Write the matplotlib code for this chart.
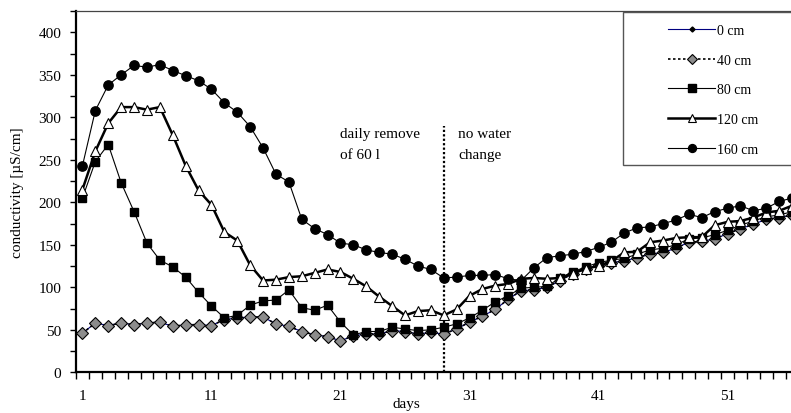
import numpy as np
import matplotlib
matplotlib.use("Agg")
import matplotlib.pyplot as plt
from matplotlib.patches import Rectangle
from matplotlib.ticker import FixedLocator, MultipleLocator

plt.rcParams['font.family'] = ['Liberation Serif', 'DejaVu Serif']
plt.rcParams['font.size'] = 11

days = np.arange(1, 57)

# conductivity at each sampling depth [µS/cm]
cond_0 = [46, 58, 55, 58, 56, 58, 59, 54, 56, 56, 55, 62, 64, 65, 65, 57, 54, 48, 44, 42,
          37, 43, 45, 45, 49, 48, 45, 47, 45, 51, 59, 66, 74, 86, 96, 97, 100, 108, 116, 122,
          126, 129, 131, 135, 139, 141, 146, 153, 154, 157, 163, 169, 174, 180, 182, 185]
cond_40 = [46, 58, 55, 58, 56, 58, 59, 54, 56, 56, 55, 62, 64, 65, 65, 57, 54, 48, 44, 42,
           37, 43, 45, 45, 49, 48, 45, 47, 45, 51, 59, 66, 74, 86, 96, 97, 100, 108, 116, 122,
           126, 129, 131, 135, 139, 141, 146, 153, 154, 157, 163, 169, 174, 180, 182, 185]
cond_80 = [205, 248, 268, 223, 189, 152, 132, 124, 112, 94, 78, 64, 67, 79, 84, 85, 97, 76, 73, 79,
           59, 44, 48, 48, 53, 51, 49, 50, 53, 57, 64, 73, 83, 90, 99, 100, 101, 111, 118, 124,
           129, 132, 134, 139, 144, 146, 150, 157, 158, 162, 167, 173, 178, 183, 185, 189]
cond_120 = [215, 260, 293, 312, 312, 309, 312, 279, 243, 214, 197, 165, 155, 126, 108, 109, 112, 113, 117, 121,
            118, 110, 101, 89, 78, 67, 72, 73, 67, 74, 90, 98, 102, 104, 110, 111, 110, 111, 116, 122,
            125, 131, 141, 142, 153, 155, 158, 159, 159, 173, 177, 178, 182, 188, 190, 196]
cond_160 = [243, 308, 338, 350, 361, 359, 362, 355, 349, 343, 333, 317, 306, 289, 264, 233, 224, 180, 169, 162,
            152, 150, 144, 141, 139, 133, 125, 121, 111, 112, 114, 114, 115, 110, 108, 123, 135, 137, 139, 142,
            147, 153, 164, 170, 171, 175, 179, 186, 182, 189, 193, 196, 190, 193, 201, 205]

switch_day = 29

W, H = 791, 414
fig = plt.figure(figsize=(W / 100, H / 100), dpi=100)
ax = fig.add_axes([76 / W, (H - 373.3) / H, 722.5 / W, 361.25 / H])

l0, = ax.plot(days, cond_0, color='#000080', lw=0.8, marker='D', ms=3,
              mfc='black', mec='black', label='0 cm', zorder=2)
l40, = ax.plot(days, cond_40, color='black', lw=1.2, ls=(0, (1.5, 1.5)), marker='D', ms=6.3,
               mfc='#8c8c8c', mec='black', mew=0.8, label='40 cm', zorder=3)
l80, = ax.plot(days, cond_80, color='black', lw=0.8, marker='s', ms=6,
               mfc='black', mec='black', label='80 cm', zorder=4)
l120, = ax.plot(days, cond_120, color='black', lw=1.8, marker='^', ms=7.5,
                mfc='white', mec='black', mew=0.8, label='120 cm', zorder=5)
l160, = ax.plot(days, cond_160, color='black', lw=0.8, marker='o', ms=6.7,
                mfc='black', mec='black', label='160 cm', zorder=6)

ax.vlines(switch_day, 0, 290, colors='black', lw=1.6, linestyles=(0, (1, 1)), zorder=1)

ax.text(21, 269, 'daily remove\nof 60 l', ha='left', va='center', linespacing=1.8)
ax.text(30.1, 269, 'no water\nchange', ha='left', va='center', linespacing=1.8)

ax.set_xlim(0.5, 56.5)
ax.set_ylim(0, 425)

ax.xaxis.set_major_locator(FixedLocator([1, 11, 21, 31, 41, 51]))
ax.xaxis.set_minor_locator(FixedLocator(np.arange(0.5, 57, 1)))
ax.tick_params(axis='x', which='major', length=0, pad=12, labelsize=11)
ax.tick_params(axis='x', which='minor', length=5, width=1, direction='out')
ax.yaxis.set_major_locator(MultipleLocator(50))
ax.yaxis.set_minor_locator(MultipleLocator(25))
ax.tick_params(axis='y', which='both', length=4.5, width=1, direction='out', pad=6, labelsize=11)

ax.spines['left'].set_linewidth(1.6)
ax.spines['bottom'].set_linewidth(1.6)
ax.spines['top'].set_linewidth(0.9)
ax.spines['top'].set_color('#444444')
ax.spines['right'].set_visible(False)

ax.set_xlabel('days', fontsize=11)
ax.xaxis.set_label_coords(0.457, -0.068)
ax.set_ylabel('conductivity [µS/cm]', fontsize=11)
ax.yaxis.set_label_coords(-0.072, 0.5)

# legend box sits in the upper right corner of the plot area
fig.patches.append(Rectangle((623 / W, (H - 166) / H), 200 / W, 153 / H,
                             transform=fig.transFigure, fill=True, facecolor='white',
                             edgecolor='#555555', lw=1, zorder=7))
leg = fig.legend(handles=[l0, l40, l80, l120, l160], loc='upper left',
                 bbox_to_anchor=(668 / W, 1 - 25 / H), frameon=False, fontsize=10,
                 handlelength=3.4, handletextpad=0.15, labelspacing=1.2,
                 borderpad=0, borderaxespad=0, markerscale=0.85)
leg.set_zorder(8)

fig.savefig('out.png', dpi=100)
